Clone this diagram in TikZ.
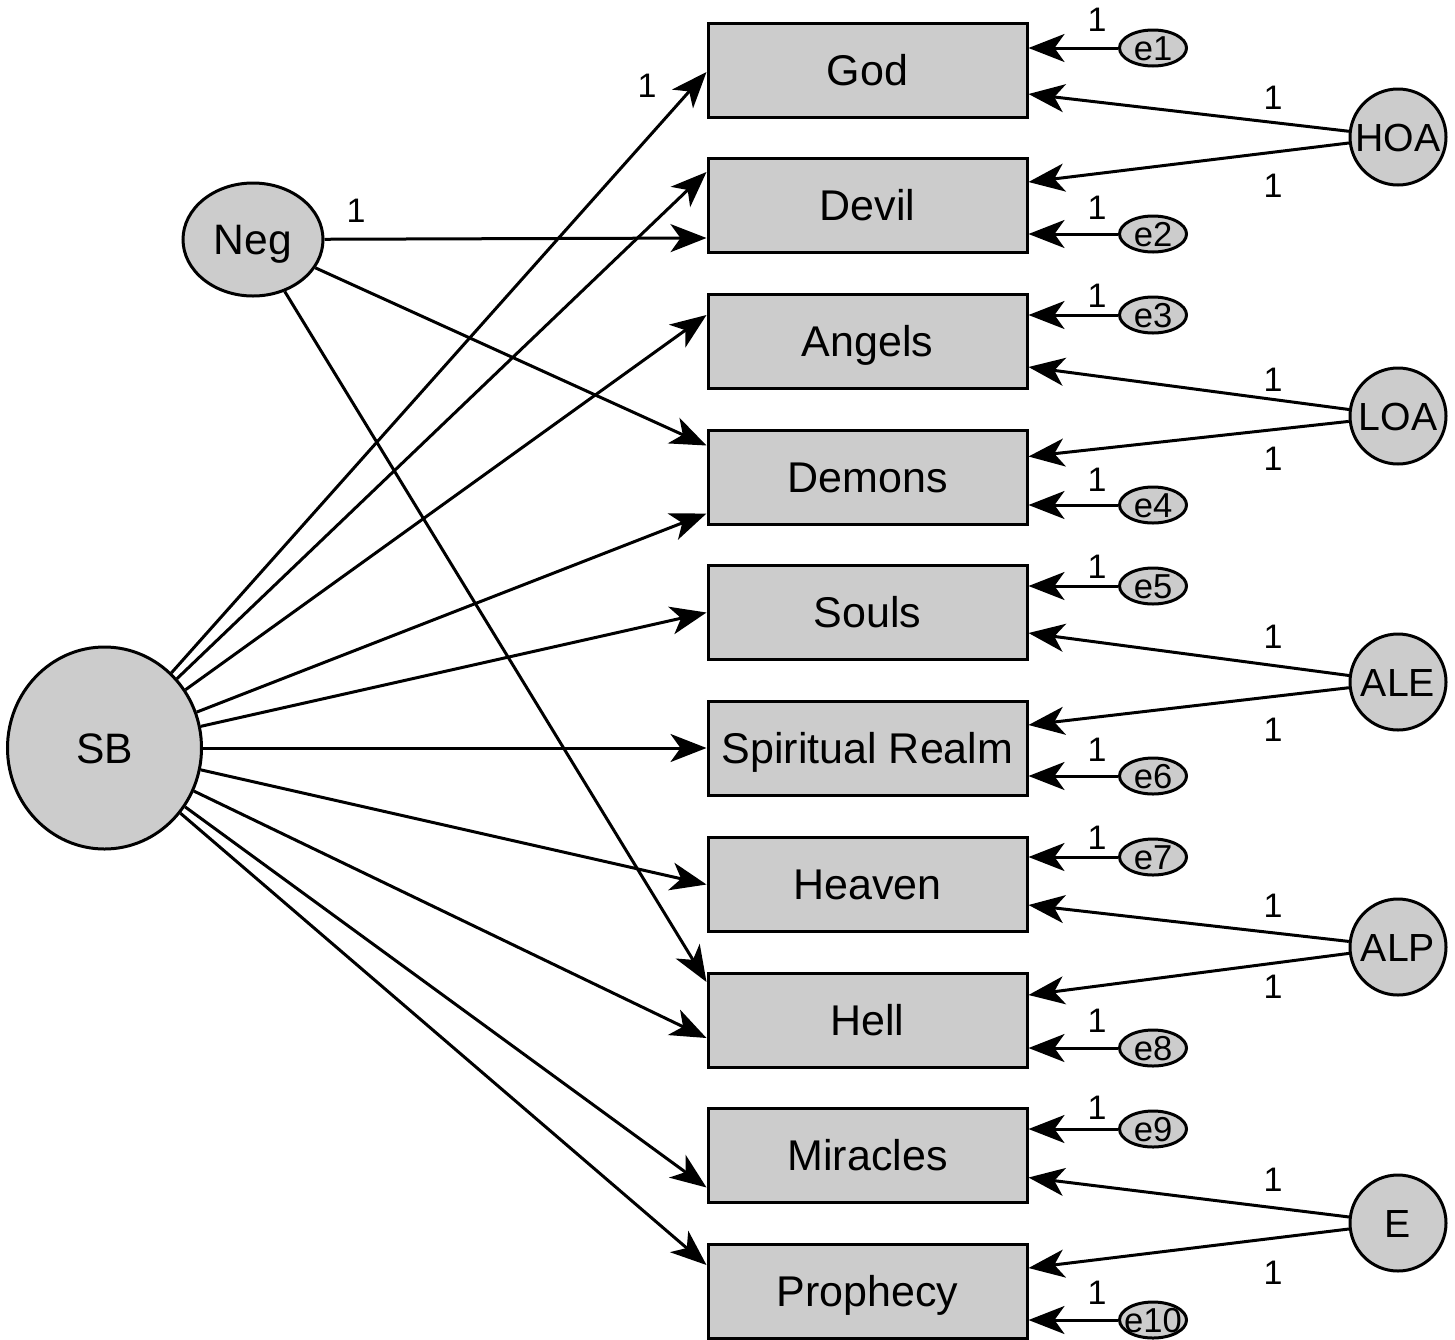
\documentclass[tikz,border=0pt]{standalone}
\usepackage{fontspec}
\setmainfont{Liberation Sans}
\usetikzlibrary{shapes.geometric,arrows.meta,calc}
\definecolor{boxgray}{RGB}{204,204,204}
\begin{document}
\begin{tikzpicture}[x=0.5pt,y=-0.5pt,
  obs/.style={draw, line width=1.5pt, fill=boxgray, minimum width=159.5pt, minimum height=47pt,
    inner sep=0pt, text height=15.4pt, text depth=0pt, font=\fontsize{21.5}{24}\selectfont},
  lat/.style={circle, draw, line width=1.5pt, fill=boxgray, minimum size=48pt, inner sep=0pt,
    text height=14pt, text depth=0pt, font=\fontsize{19.6}{22}\selectfont},
  big/.style={ellipse, draw, line width=1.5pt, fill=boxgray, inner sep=0pt,
    text height=15pt, text depth=0pt, font=\fontsize{21.3}{24}\selectfont},
  err/.style={ellipse, draw, line width=1.5pt, fill=boxgray, minimum width=33.5pt, minimum height=18pt, inner sep=0pt},
  etext/.style={inner sep=0pt, text height=12.3pt, text depth=0pt, font=\fontsize{17.3}{19}\selectfont},
  arr/.style={line width=1.5pt, -{Stealth[length=18pt,width=14pt,inset=5pt]}},
  one/.style={inner sep=0pt, font=\fontsize{17}{19}\selectfont}
]
\useasboundingbox (0,0) rectangle (1455,1339);

% observed variables
\node[obs] (god)      at (867.5,70)    {God};
\node[obs] (devil)    at (867.5,205)   {Devil};
\node[obs] (angels)   at (867.5,341)   {Angels};
\node[obs] (demons)   at (867.5,477.5) {Demons};
\node[obs] (souls)    at (867.5,612.5) {Souls};
\node[obs] (sr)       at (867.5,748)   {Spiritual Realm};
\node[obs] (heaven)   at (867.5,884.5) {Heaven};
\node[obs] (hell)     at (867.5,1020)  {Hell};
\node[obs] (miracles) at (867.5,1155.5){Miracles};
\node[obs] (prophecy) at (867.5,1291)  {Prophecy};

% latent variables
\node[big, minimum width=97pt, minimum height=101pt] (sb) at (104.5,748) {SB};
\node[big, minimum width=70pt, minimum height=56.5pt] (neg) at (253,239.5) {Neg};
\node[lat] (hoa) at (1398,137)  {HOA};
\node[lat] (loa) at (1398,416)  {LOA};
\node[lat] (ale) at (1398,682)  {ALE};
\node[lat] (alp) at (1398,947)  {ALP};
\node[lat] (E)   at (1398,1223) {E};

% error terms
\foreach \n/\y in {1/48,2/234,3/315,4/505,5/586,6/776,7/857,8/1048,9/1129,10/1320}
  \node[err, label={[etext]center:e\n}] (e\n) at (1153,\y) {};

% error paths
\foreach \n/\b in {1/god,2/devil,3/angels,4/demons,5/souls,6/sr,7/heaven,8/hell,9/miracles,10/prophecy}
  \draw[arr] (e\n) -- (e\n -| \b.east);

% factor loadings
\draw[arr] (hoa) -- ($(god.east)+(0,24)$);
\draw[arr] (hoa) -- ($(devil.east)+(0,-23)$);
\draw[arr] (loa) -- ($(angels.east)+(0,26)$);
\draw[arr] (loa) -- ($(demons.east)+(0,-21)$);
\draw[arr] (ale) -- ($(souls.east)+(0,20.5)$);
\draw[arr] (ale) -- ($(sr.east)+(0,-23)$);
\draw[arr] (alp) -- ($(heaven.east)+(0,20.5)$);
\draw[arr] (alp) -- ($(hell.east)+(0,-25)$);
\draw[arr] (E) -- ($(miracles.east)+(0,22)$);
\draw[arr] (E) -- ($(prophecy.east)+(0,-23)$);

% SB paths
\draw[arr] (sb) -- ($(god.west)+(0,2)$);
\draw[arr] (sb) -- ($(devil.west)+(0,-33)$);
\draw[arr] (sb) -- ($(angels.west)+(0,-26)$);
\draw[arr] (sb) -- ($(demons.west)+(0,36)$);
\draw[arr] (sb) -- (souls.west);
\draw[arr] (sb) -- (sr.west);
\draw[arr] (sb) -- (heaven.west);
\draw[arr] (sb) -- ($(hell.west)+(0,18)$);
\draw[arr] (sb) -- ($(miracles.west)+(0,32)$);
\draw[arr] (sb) -- ($(prophecy.west)+(0,-26)$);

% Neg paths
\draw[arr] (neg) -- ($(devil.west)+(0,33)$);
\draw[arr] (neg) -- ($(demons.west)+(0,-32)$);
\draw[arr] (neg) -- ($(hell.west)+(0,-38)$);

% labels "1"
\node[one] at (647,86) {1};
\node[one] at (356,211) {1};
\foreach \y in {20,208,296,480,567,750,838,1021,1108,1293}
  \node[one] at (1097,\y) {1};
\foreach \y in {98,186,380,459,637,730,906,987,1180,1273}
  \node[one] at (1273,\y) {1};
\end{tikzpicture}
\end{document}
